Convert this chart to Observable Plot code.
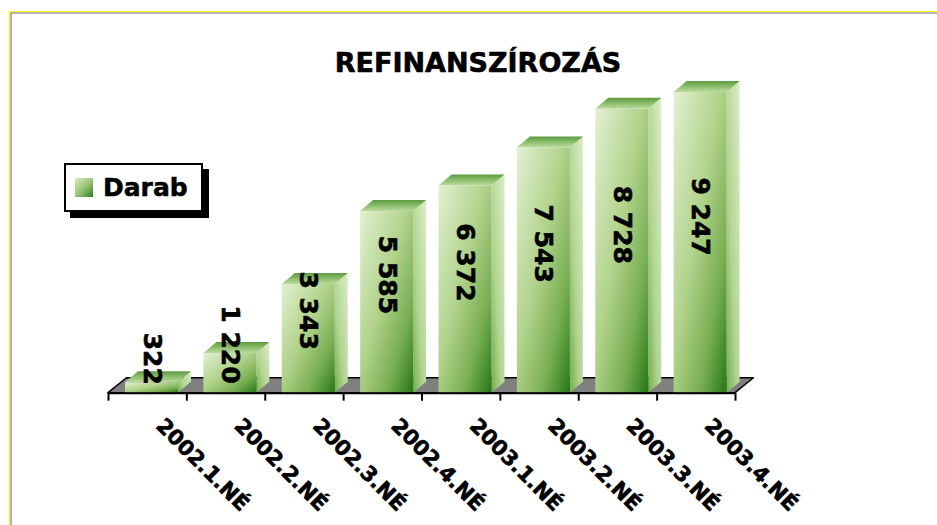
<!DOCTYPE html>
<html>
<head>
<meta charset="utf-8">
<script src="https://cdn.jsdelivr.net/npm/d3@7"></script>
<script src="https://cdn.jsdelivr.net/npm/@observablehq/plot@0.6"></script>
<style>
  html, body { margin: 0; padding: 0; background: white; }
  #wrap { position: relative; width: 937px; height: 525px; overflow: hidden; background: white; }
  #chart { position: absolute; left: 0; top: 0; }
  #frame { position: absolute; left: 9px; top: 11px; width: 2000px; height: 2000px;
           border-left: 1px solid #ffff00; border-top: 1px solid #ffff00; pointer-events: none; }
  #frame2 { position: absolute; left: 10px; top: 12px; width: 2000px; height: 2000px;
            border-left: 2px solid #b4b4b4; border-top: 2px solid #b4b4b4; pointer-events: none; }
  #title { position: absolute; left: 0; width: 956px; top: 49px; text-align: center;
           font-family: "DejaVu Sans", sans-serif;
           font-weight: bold; font-size: 27px; line-height: 28px; color: #000;
           -webkit-text-stroke: 0.6px #000; }
  #legend { position: absolute; left: 64px; top: 163px; width: 135px; height: 45px;
            border: 2px solid #000; background: #fff; box-shadow: 6px 6px 0 #000; }
  #key { position: absolute; left: 9px; top: 13px; width: 18px; height: 19px;
         background: linear-gradient(135deg, #d6eabf 0%, #9cc677 50%, #2f7d1f 100%); }
  #ltext { position: absolute; left: 37px; top: 10px; font-family: "DejaVu Sans", sans-serif;
           font-weight: bold; font-size: 25px; line-height: 26px; color: #000;
           -webkit-text-stroke: 0.5px #000; }
</style>
</head>
<body>
<div id="wrap">
  <div id="chart"></div>
  <div id="frame"></div>
  <div id="frame2"></div>
  <div id="title"></div>
  <div id="legend"><div id="key"></div><div id="ltext"></div></div>
</div>
<script>
// ---- data ----
const chartTitle = "REFINANSZÍROZÁS";
const seriesName = "Darab";
const categories = ["2002.1.NÉ", "2002.2.NÉ", "2002.3.NÉ", "2002.4.NÉ", "2003.1.NÉ", "2003.2.NÉ", "2003.3.NÉ", "2003.4.NÉ"];
const values = [322, 1220, 3343, 5585, 6372, 7543, 8728, 9247];
const yDomain = [0, 10000];

document.getElementById("title").textContent = chartTitle;
document.getElementById("ltext").textContent = seriesName;

// ---- 3D geometry (in scale units) ----
const idx = values.map((v, i) => i);
const BL = -0.283, BR = 0.393;      // front face extent around category index
const DX = 0.166, DY = 338;          // bar depth offset
const FDX = 0.235, FDY = 461;        // floor depth offset
const fmt = v => d3.format(",")(v).replace(/,/g, " ");

const sideData = idx.flatMap(i => [
  {i, x: i + BR, y1: 0, y2: values[i]},
  {i, x: i + BR + DX, y1: DY, y2: values[i] + DY}
]);
const topData = idx.flatMap(i => [
  {i, y: values[i], x1: i + BL, x2: i + BR},
  {i, y: values[i] + DY, x1: i + BL + DX, x2: i + BR + DX}
]);
const floorData = [
  {y: 0, x1: -0.5, x2: categories.length - 0.5},
  {y: FDY, x1: -0.5 + FDX, x2: categories.length - 0.5 + FDX}
];
const boundaries = d3.range(-0.5, categories.length, 1);

const plot = Plot.plot({
  width: 937,
  height: 525,
  marginLeft: 108,
  marginRight: 202,
  marginTop: 67.5,
  marginBottom: 132.3,
  style: {background: "transparent"},
  x: {type: "linear", domain: [-0.5, categories.length - 0.5]},
  y: {domain: yDomain, axis: null},
  marks: [
    Plot.areaX(floorData, {y: "y", x1: "x1", x2: "x2", fill: "#808080", stroke: "#000", strokeWidth: 1.5}),
    Plot.areaY(sideData, {x: "x", y1: "y1", y2: "y2", z: "i", fill: "url(#gSide)"}),
    Plot.areaX(topData, {y: "y", x1: "x1", x2: "x2", z: "i", fill: "url(#gTop)"}),
    Plot.rect(idx, {x1: i => i + BL, x2: i => i + BR, y1: 0, y2: i => values[i], fill: "url(#gFront)"}),
    Plot.ruleY([0], {x1: -0.5, x2: categories.length - 0.5, stroke: "#000", strokeWidth: 2}),
    Plot.axisX({ticks: boundaries, tickSize: 8, tickFormat: () => "", strokeWidth: 2, stroke: "#000", label: null}),
    Plot.text(idx, {x: i => i, y: 0, text: i => categories[i], rotate: 45, textAnchor: "start", lineAnchor: "middle",
      dx: 12, dy: 29, fontSize: 21, fontWeight: "bold", fontFamily: "DejaVu Sans", fill: "#000",
      stroke: "#000", strokeWidth: 0.6}),
    Plot.text(idx, {x: i => i + 0.05, y: i => 0.49 * values[i] + 900, text: i => fmt(values[i]), rotate: 90,
      textAnchor: "middle", lineAnchor: "middle", fontSize: 25, fontWeight: "bold", fontFamily: "DejaVu Sans", fill: "#000",
      stroke: "#000", strokeWidth: 0.6})
  ]
});

const svg = d3.select(plot);
const defs = svg.insert("defs", ":first-child");
function grad(id, x1, y1, x2, y2, stops) {
  const g = defs.append("linearGradient").attr("id", id)
    .attr("x1", x1).attr("y1", y1).attr("x2", x2).attr("y2", y2);
  stops.forEach(([o, c]) => g.append("stop").attr("offset", o).attr("stop-color", c));
}
grad("gFront", 0, 0, 1, 1, [[0, "#e2f0d2"], [0.45, "#b0d28a"], [0.75, "#78ae52"], [1, "#267717"]]);
grad("gSide", 1, 0, 0, 1, [[0, "#dcedc9"], [0.6, "#b0d58f"], [1, "#73ad4e"]]);
grad("gTop", 0, 0, 0, 1, [[0, "#5c9b40"], [0.5, "#8dbd6c"], [1, "#bcdba0"]]);

document.getElementById("chart").appendChild(plot);
</script>
</body>
</html>
